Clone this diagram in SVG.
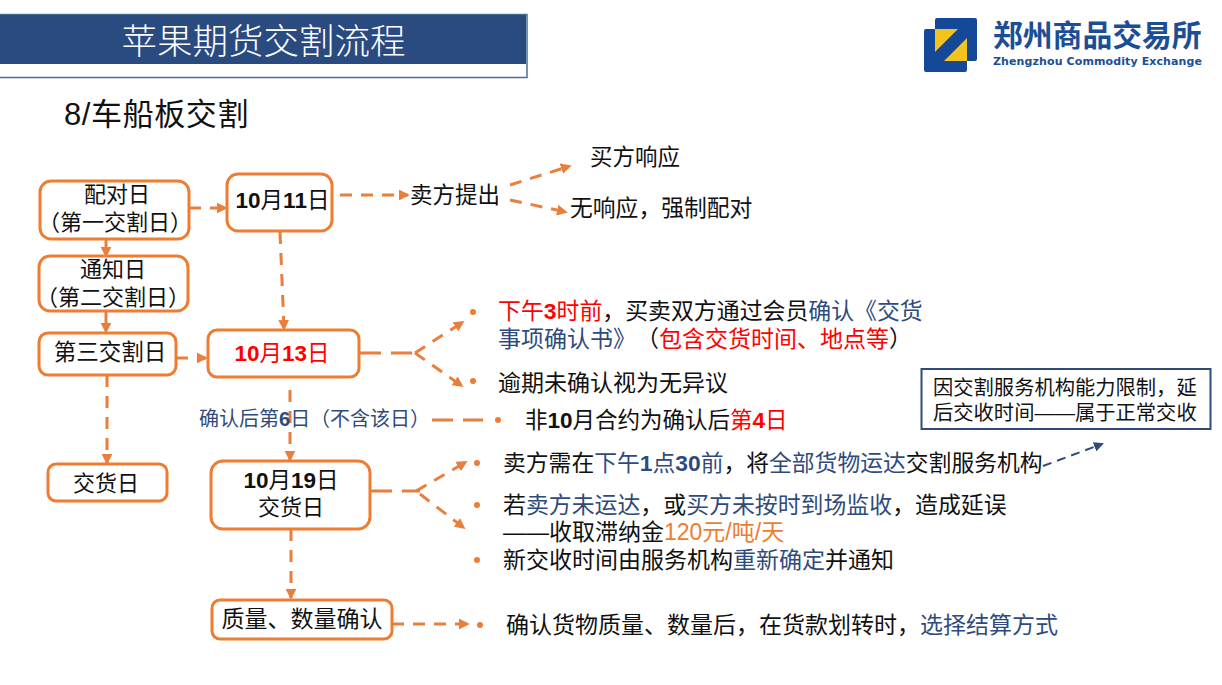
<svg xmlns="http://www.w3.org/2000/svg" width="1222" height="685" viewBox="0 0 1222 685" lang="zh-CN">
<style>
text{font-family:"Liberation Sans","Noto Sans CJK SC",sans-serif;font-size:23px;fill:#111;text-spacing-trim:space-all}
.m{text-anchor:middle}
.n{fill:#fff;stroke:#ed7d31;stroke-width:3}
.c{fill:none;stroke:#e97f3c;stroke-width:3;stroke-dasharray:12 9}
.l{stroke-dasharray:21 10}
.a{marker-end:url(#ah)}
.d{fill:#ed7d31}
.b{font-weight:700}
.r{fill:#f00}
.u{fill:#2f4b7c}
.o{fill:#ed7d31}
</style>
<defs>
<marker id="ah" markerWidth="3.600" markerHeight="3.600" refX="3" refY="1.800" orient="auto" markerUnits="strokeWidth"><path d="M0 0L3.600 1.800L0 3.600Z" fill="#e97f3c"/></marker>
<marker id="ahb" markerWidth="5" markerHeight="5" refX="4" refY="2.500" orient="auto" markerUnits="strokeWidth"><path d="M0 0L5 2.500L0 5Z" fill="#2f4b7c"/></marker>
</defs>
<rect width="1222" height="685" fill="#fff"/>
<g id="header">
<rect x="-2" y="14.500" width="529" height="63" fill="#fff" stroke="#4a6f97" stroke-width="1.500"/>
<rect x="0" y="15" width="526" height="49" fill="#2a4b80"/>
<text x="263.500" y="54" class="m" style="font-size:35.500px;fill:#fff;font-weight:300">苹果期货交割流程</text>
<text x="64" y="125" style="font-size:31px;letter-spacing:.6px"><tspan>8/</tspan>车船板交割</text>
</g>
<g id="logo">
<rect x="924" y="29" width="43" height="43" rx="2" fill="#14499a"/>
<rect x="935" y="18" width="42" height="43" rx="2" fill="#14499a"/>
<path d="M935 29H958L935 52Z" fill="#f2c31c"/>
<path d="M967 38V61H944Z" fill="#f2c31c"/>
<text x="993" y="46" style="font-size:29.800px;fill:#1c4e96;font-weight:700">郑州商品交易所</text>
<text x="993" y="65" textLength="209" lengthAdjust="spacing" style="font-size:11px;fill:#1c4e96;font-weight:700;font-family:'DejaVu Sans',sans-serif">Zhengzhou Commodity Exchange</text>
</g>
<g id="connectors">
<path class="c a" d="M189 208H226"/>
<path class="c a" d="M106 239V256"/>
<path class="c a" d="M106 311V332"/>
<path class="c a" d="M107 375V463"/>
<path class="c a" d="M176 358H206"/>
<path class="c a" d="M280 232L284 329"/>
<path class="c a" d="M340 195H408"/>
<path class="c a" d="M510 185L570 166"/>
<path class="c a" d="M510 200L566 212"/>
<path class="c l" d="M360 353H415"/>
<path class="c a" d="M415 353L463 322"/>
<path class="c a" d="M415 353L462 386"/>
<path class="c a" d="M290 390V460"/>
<path class="c l" d="M432 420H483"/>
<path class="c l" d="M371 491H420"/>
<path class="c a" d="M416 491L466 462"/>
<path class="c a" d="M420 494L464 528"/>
<path class="c a" d="M291 529V598"/>
<path class="c a" d="M392 624H468"/>
<path d="M1043 466L1102 444" fill="none" stroke="#2f4b7c" stroke-width="2" stroke-dasharray="9 6" marker-end="url(#ahb)"/>
</g>
<g id="node-pairing"><rect class="n" x="40" y="181" width="149" height="58" rx="11"/><text class="m" x="117" y="202" style="font-size:22px">配对日</text><text class="m" x="115" y="230" style="font-size:22px">（第一交割日）</text></g>
<g id="node-oct11"><rect class="n" x="227" y="174" width="105" height="57" rx="11"/><text class="m" x="282.500" y="208" style="font-size:22.500px"><tspan class="b">10</tspan>月<tspan class="b">11</tspan>日</text></g>
<g id="node-notice"><rect class="n" x="39" y="256" width="149" height="55" rx="11"/><text class="m" x="113" y="277" style="font-size:22px">通知日</text><text class="m" x="113" y="305" style="font-size:22px">（第二交割日）</text></g>
<g id="node-third"><rect class="n" x="39" y="333" width="137" height="42" rx="9"/><text class="m" x="110" y="360" style="font-size:22.500px">第三交割日</text></g>
<g id="node-oct13"><rect class="n" x="208" y="330" width="151" height="47" rx="9"/><text class="m r" x="282" y="361" style="font-size:22.500px"><tspan class="b">10</tspan>月<tspan class="b">13</tspan>日</text></g>
<g id="node-delivery"><rect class="n" x="48" y="464" width="119" height="37" rx="8"/><text class="m" x="106" y="491" style="font-size:22px">交货日</text></g>
<g id="node-oct19"><rect class="n" x="211" y="461" width="159" height="68" rx="12"/><text class="m" x="291" y="488" style="font-size:22.500px"><tspan class="b">10</tspan>月<tspan class="b">19</tspan>日</text><text class="m" x="291" y="515" style="font-size:22px">交货日</text></g>
<g id="node-quality"><rect class="n" x="212" y="600" width="180" height="39" rx="8"/><text class="m" x="302" y="627" style="font-size:23px">质量、数量确认</text></g>
<g id="node-seller"><text x="410" y="203" style="font-size:22.500px">卖方提出</text></g>
<g id="node-buyer"><text x="590" y="165" style="font-size:22.500px">买方响应</text></g>
<g id="node-force"><text x="570" y="216" style="font-size:22.800px">无响应，强制配对</text></g>
<g id="node-confirm"><text x="498" y="319" style="font-size:22.900px"><tspan class="r">下午<tspan class="b">3</tspan>时前</tspan>，买卖双方通过会员<tspan class="u">确认《交货</tspan></text>
<text x="498" y="347"><tspan class="u">事项确认书》</tspan>（<tspan class="r">包含交货时间、地点等</tspan>）</text></g>
<g id="node-overdue"><text x="498" y="391">逾期未确认视为无异议</text></g>
<g id="node-after"><text x="199" y="426" class="u" style="font-size:20px">确认后第<tspan class="b">6</tspan>日（不含该日）</text></g>
<g id="node-non10"><text x="525" y="428" style="font-size:22.500px">非<tspan class="b">10</tspan>月合约为确认后<tspan class="r">第<tspan class="b">4</tspan>日</tspan></text></g>
<g id="node-deliver-text"><text x="503" y="471" style="font-size:22.800px">卖方需在<tspan class="u">下午<tspan class="b">1</tspan>点<tspan class="b">30</tspan>前</tspan>，将<tspan class="u">全部货物运达</tspan>交割服务机构</text></g>
<g id="node-delay"><text x="503" y="513" style="font-size:22.900px">若<tspan class="u">卖方未运达</tspan>，或<tspan class="u">买方未按时到场监收</tspan>，造成延误</text>
<text x="503" y="540">——收取滞纳金<tspan class="o">120元/吨/天</tspan></text></g>
<g id="node-new"><text x="503" y="568">新交收时间由服务机构<tspan class="u">重新确定</tspan>并通知</text></g>
<g id="node-settle"><text x="506" y="633">确认货物质量、数量后，在货款划转时，<tspan class="u">选择结算方式</tspan></text></g>
<g id="node-note"><rect x="921.500" y="369" width="289" height="60" fill="#fff" stroke="#2f4b7c" stroke-width="2"/>
<text x="933" y="395" style="font-size:20.300px">因交割服务机构能力限制，延</text>
<text x="933" y="420" style="font-size:20.300px">后交收时间——属于正常交收</text></g>
<g id="bullets">
<circle class="d" cx="473" cy="312" r="3"/><circle class="d" cx="473" cy="381" r="3"/><circle class="d" cx="498" cy="420" r="3"/>
<circle class="d" cx="477" cy="463" r="3"/><circle class="d" cx="477" cy="505" r="3"/><circle class="d" cx="477" cy="560" r="3"/><circle class="d" cx="480" cy="625" r="3"/>
</g>
</svg>
